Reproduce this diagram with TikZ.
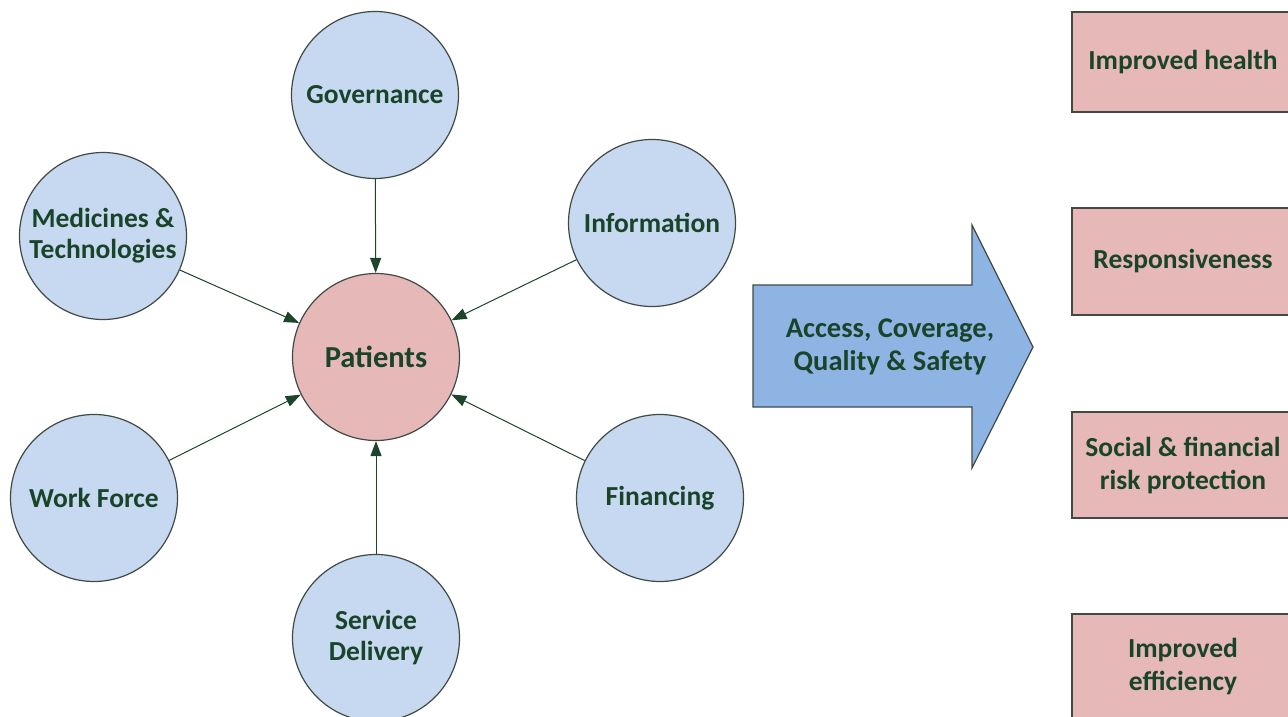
\documentclass[tikz,border=0pt]{standalone}
\usepackage{fontspec}
\setmainfont{Carlito}
\usetikzlibrary{arrows.meta}
\definecolor{circfill}{RGB}{198,217,241}
\definecolor{pinkfill}{RGB}{230,185,184}
\definecolor{arrowfill}{RGB}{142,180,227}
\definecolor{txtgreen}{RGB}{26,68,42}
\definecolor{edgegray}{RGB}{64,74,66}
\definecolor{linkgreen}{RGB}{30,68,42}
\tikzset{
  blk/.style={circle, draw=edgegray, line width=1.2pt, fill=circfill, minimum size=167pt, inner sep=0pt,
    align=center, font=\fontsize{27.5}{31}\selectfont\bfseries, text=txtgreen},
  centre/.style={blk, fill=pinkfill, font=\fontsize{30.5}{33}\selectfont\bfseries},
  outcome/.style={rectangle, draw=edgegray, line width=1.2pt, fill=pinkfill, minimum width=222pt, minimum height=106pt,
    inner sep=0pt, align=center, font=\fontsize{27.5}{33}\selectfont\bfseries, text=txtgreen},
  link/.style={draw=linkgreen, line width=1pt, -{Triangle[length=15pt,width=11pt]}},
}
\begin{document}
\begin{tikzpicture}[x=1pt,y=-1pt]
\useasboundingbox (0,0) rectangle (1288,717);
\clip (0,0) rectangle (1288,717);
\node[centre] (pat) at (376,357) {Patients};
\node[blk] (gov) at (375,95) {Governance};
\node[blk] (inf) at (652,223) {Information};
\node[blk] (med) at (103,236) {Medicines \&\\Technologies};
\node[blk] (wf) at (94,498) {Work Force};
\node[blk] (fin) at (660,498) {Financing};
\node[blk] (sd) at (376,638) {Service\\Delivery};
\foreach \s in {gov,inf,med,wf,fin,sd} \draw[link] (\s) -- (pat);
\draw[draw=edgegray, line width=1.2pt, fill=arrowfill]
  (753,285) -- (972,285) -- (972,225) -- (1033,347) -- (972,468) -- (972,407) -- (753,407) -- cycle;
\node[align=center, font=\fontsize{28.5}{33}\selectfont\bfseries, text=txtgreen] (acc) at (890,347) {Access, Coverage,\\Quality \& Safety};
\node[outcome, minimum height=100pt] (o1) at (1183,62) {Improved health};
\node[outcome, minimum height=107pt] (o2) at (1183,261.5) {Responsiveness};
\node[outcome] (o3) at (1183,465) {Social \& financial\\risk protection};
\node[outcome] (o4) at (1183,667) {Improved\\efficiency};
\end{tikzpicture}
\end{document}
